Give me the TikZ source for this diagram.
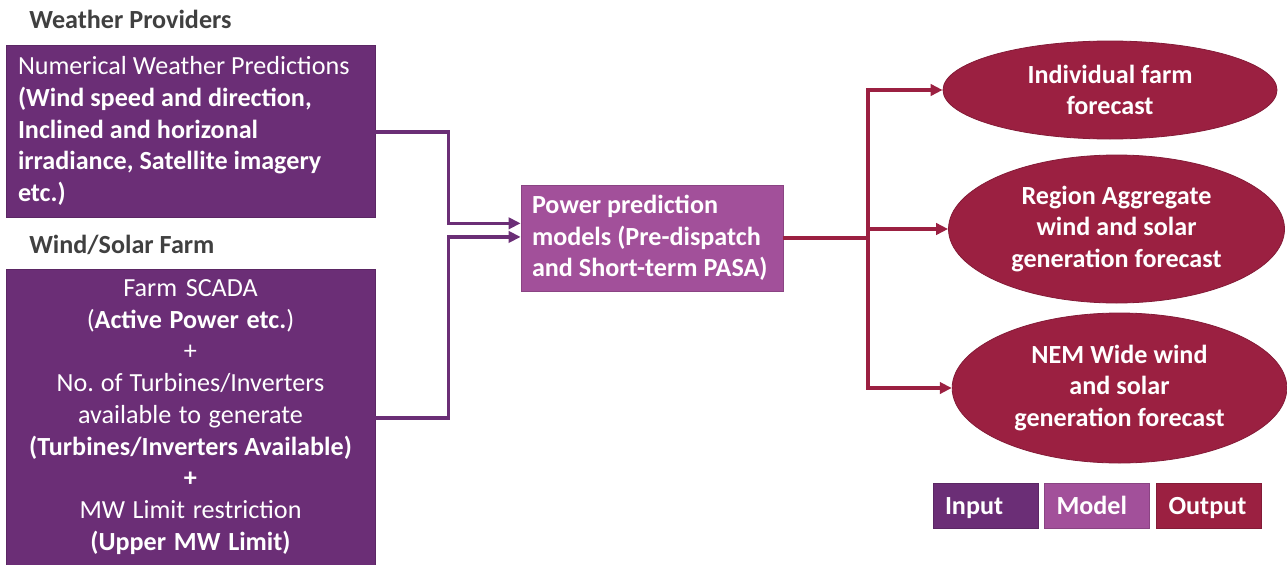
\documentclass[tikz,border=0pt]{standalone}
\usepackage{fontspec}
\setmainfont{Carlito}
\usetikzlibrary{arrows.meta,positioning,shapes}
\usepackage{xcolor}
\definecolor{inputcol}{RGB}{107,46,118}
\definecolor{modelcol}{RGB}{162,80,154}
\definecolor{outputcol}{RGB}{155,32,65}
\definecolor{headcol}{RGB}{64,64,64}

\begin{document}
\begin{tikzpicture}[x=0.75pt, y=-0.75pt,
    every node/.style={
        inner sep=0pt,
        text=white,
        font={\fontsize{19.6}{23.8}\selectfont\frenchspacing},
        execute at begin node={\spaceskip=0.23em plus 0.05em\relax}
    },
    heading/.style={anchor=west, text=headcol, font={\fontsize{19.6}{23.8}\selectfont\bfseries}},
    input_box/.style={rectangle, draw=inputcol!85!black, fill=inputcol, line width=0.6pt},
    model_box/.style={rectangle, draw=modelcol!85!black, fill=modelcol, line width=0.6pt},
    output_box/.style={rectangle, draw=outputcol!85!black, fill=outputcol, line width=0.6pt},
    forecast/.style={ellipse, draw=outputcol!85!black, fill=outputcol, line width=0.6pt,
        align=center, font={\fontsize{19.6}{23.8}\selectfont\bfseries}},
    key/.style={minimum width=78.75pt, minimum height=33.75pt, text width=60.75pt,
        text height=18.5pt, text depth=4.5pt,
        inner xsep=9pt, align=left, font={\fontsize{19.6}{23.8}\selectfont\bfseries}},
    >={Triangle[length=9pt, width=8.5pt]}
]
    \useasboundingbox (0,0) rectangle (1287,564);

    \node (weather_head) [heading, shift={(29,19)}] {Weather Providers};
    \node (farm_head) [heading, shift={(29,245)}] {Wind/Solar Farm};

    \node (nwp) [input_box, minimum width=276.75pt, minimum height=129pt,
        text width=258.75pt, inner xsep=9pt, align=left, shift={(190.5,131)}]
    {
        Numerical Weather Predictions\\
        \textbf{(Wind speed and direction,}\\
        \textbf{Inclined and horizonal}\\
        \textbf{irradiance, Satellite imagery}\\
        \textbf{etc.)}
    };
    \node (farm) [input_box, minimum width=276.75pt, minimum height=222pt,
        text width=258.75pt, inner xsep=9pt, align=center, shift={(190.5,417)}]
    {
        Farm SCADA\\
        (\textbf{Active Power etc.})\\
        +\\
        No. of Turbines/Inverters\\
        available to generate\\
        \textbf{(Turbines/Inverters Available)}\\
        \textbf{+}\\
        MW Limit restriction\\
        \textbf{(Upper MW Limit)}
    };

    \node (model) [model_box, minimum width=196.5pt, minimum height=79.5pt,
        text width=180pt, inner xsep=8.25pt, align=left, shift={(652,238)}]
    {
        \textbf{Power prediction}\\
        \textbf{models (Pre-dispatch}\\
        \textbf{and Short-term PASA)}
    };

    \node (farm_fc) [forecast, minimum width=250.5pt, minimum height=73.5pt, shift={(1110,90)}]
    {
        Individual farm\\
        forecast
    };
    \node (region_fc) [forecast, minimum width=252pt, minimum height=111pt, shift={(1116.5,229)}]
    {
        Region Aggregate\\
        wind and solar\\
        generation forecast
    };
    \node (nem_fc) [forecast, minimum width=251pt, minimum height=112.5pt, shift={(1119.5,388)}]
    {
        NEM Wide wind\\
        and solar\\
        generation forecast
    };

    \node (input_key) [input_box, key, shift={(985.5,505.5)}] {Input};
    \node (model_key) [model_box, key, shift={(1097,505.5)}] {Model};
    \node (output_key) [output_box, key, shift={(1209,505.5)}] {Output};

    \coordinate (split) at (868,238);

    \draw[->, inputcol, line width=2.6pt] ([yshift=-0.8pt]nwp.east) -- ++(73,0) |- ([yshift=11pt]model.west);
    \draw[->, inputcol, line width=2.6pt] ([yshift=-0.8pt]farm.east) -- ++(73,0) |- ([yshift=0.8pt]model.west);
    \draw[outputcol, line width=2.6pt] (model.east) -- (split);
    \draw[->, outputcol, line width=2.6pt] (split) |- (farm_fc.west);
    \draw[->, outputcol, line width=2.6pt] (split) |- (region_fc.west);
    \draw[->, outputcol, line width=2.6pt] (split) |- (nem_fc.west);
\end{tikzpicture}
\end{document}
